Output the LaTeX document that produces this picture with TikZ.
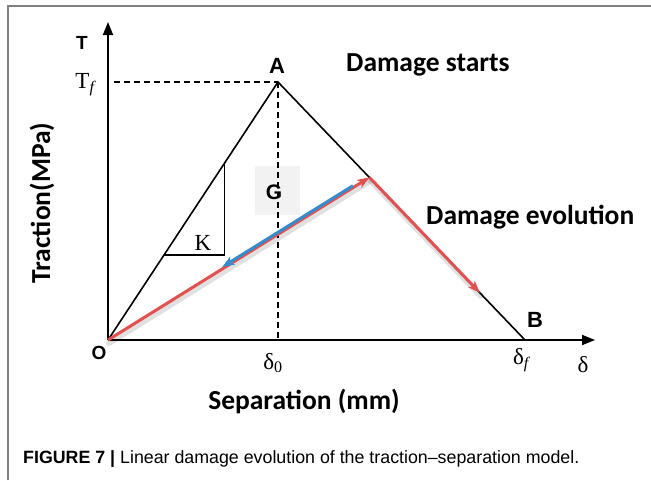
\documentclass[tikz,border=0pt]{standalone}
\usepackage{fontspec}
\setmainfont{Liberation Serif}
\newfontfamily\calfont{Carlito}
\newfontfamily\arialfont{Liberation Sans}
\usetikzlibrary{arrows.meta,calc}
\definecolor{redline}{RGB}{226,80,80}
\definecolor{blueline}{RGB}{52,140,205}
\tikzset{
  axis/.style={line width=1.8pt,-{Triangle[length=13pt,width=10pt]}},
  curve/.style={line width=1.6pt},
  dashln/.style={line width=1.5pt,dash pattern=on 6pt off 4pt},
  redarrow/.style={line width=3pt,redline,-{Stealth[length=12pt,width=9pt,inset=3pt]}},
  bluearrow/.style={line width=3pt,blueline,-{Stealth[length=12pt,width=9pt,inset=3pt]}},
  shadowln/.style={line width=6pt,black,opacity=0.12},
  boldlab/.style={font=\arialfont\bfseries\fontsize{22}{25}\selectfont,inner sep=0pt},
  smalllab/.style={font=\arialfont\bfseries\fontsize{19}{22}\selectfont,inner sep=0pt},
  serlab/.style={font=\fontsize{23}{26}\selectfont,inner sep=0pt},
  callab/.style={font=\calfont\bfseries\fontsize{27.5}{32}\selectfont,inner sep=0pt},
}
\begin{document}
\begin{tikzpicture}[x=1pt,y=-1pt]
\useasboundingbox (0,0) rectangle (651,480);
\fill[white] (0,0) rectangle (651,480);
\draw[gray,line width=1.2pt] (8,480) -- (8,6) -- (651,6);

\coordinate (O) at (108,340);
\coordinate (Ttop) at (108,22);
\coordinate (Xend) at (595,340);
\coordinate (A) at (278,82);
\coordinate (B) at (525,340);
\coordinate (D0) at (278,340);
\coordinate (TfL) at (114,82);
\coordinate (C) at ($(A)!0.37!(B)$);
\coordinate (Rend) at ($(A)!0.817!(B)$);
\coordinate (K1) at ($(O)!0.686!(A)$);
\coordinate (K3) at ($(O)!0.329!(A)$);
\coordinate (K2) at (K1 |- K3);
\coordinate (Bl1) at ($(O)!0.94!(C)+(-0.8,-1.5)$);
\coordinate (Bl2) at ($(O)!0.44!(C)+(-0.8,-1.5)$);

% G background box
\fill[black!5] (255,166) rectangle (300,215);

% axes
\draw[axis] (O) -- (Ttop);
\draw[axis] (O) -- (Xend);

% dashed guides
\draw[dashln] (TfL) -- (A);
\draw[dashln] (A) -- (D0);

% main curve
\draw[curve,line join=miter] (O) -- (A) -- (B);

% K triangle
\draw[curve] (K1) -- (K2) -- (K3);

% shadows
\draw[shadowln,line cap=round] ($(O)+(1,3)$) -- ($(C)+(1,3)$);
\draw[shadowln,line cap=round] ($(C)+(1,3)$) -- ($(Rend)+(1,3)$);

% red and blue arrows
\draw[redarrow] (O) -- (C);
\draw[redarrow] (C) -- (Rend);
\draw[bluearrow] (Bl1) -- (Bl2);

% labels
\node[smalllab] (Tlab) at (82,43) {T};
\node[boldlab] (Alab) at (277,66) {A};
\node[smalllab] (Olab) at (99,353) {O};
\node[boldlab] (Blab) at (535,320) {B};
\node[boldlab,font=\arialfont\bfseries\fontsize{21}{24}\selectfont] (Glab) at (274,192) {G};
\node[serlab] (Tflab) at (85,85) {T\textsubscript{\itshape f}};
\node[serlab] (Klab) at (203,243) {K};
\node[serlab] (d0lab) at (273,363) {δ\textsubscript{0}};
\node[serlab] (dflab) at (521,360) {δ\textsubscript{\itshape f}};
\node[serlab] (dlab) at (583,365) {δ};

\node[callab,anchor=west] (ds) at (346,65) {Damage starts};
\node[callab,anchor=west] (de) at (426,217) {Damage evolution};
\node[callab] (sep) at (304,401) {Separation (mm)};
\node[callab,rotate=90] (trac) at (42,203) {Traction(MPa)};

\node[anchor=west,inner sep=0pt,font=\arialfont\fontsize{17.8}{20}\selectfont] (cap) at (23,459)
  {\textbf{FIGURE 7 |} Linear damage evolution of the traction–separation model.};
\end{tikzpicture}
\end{document}
